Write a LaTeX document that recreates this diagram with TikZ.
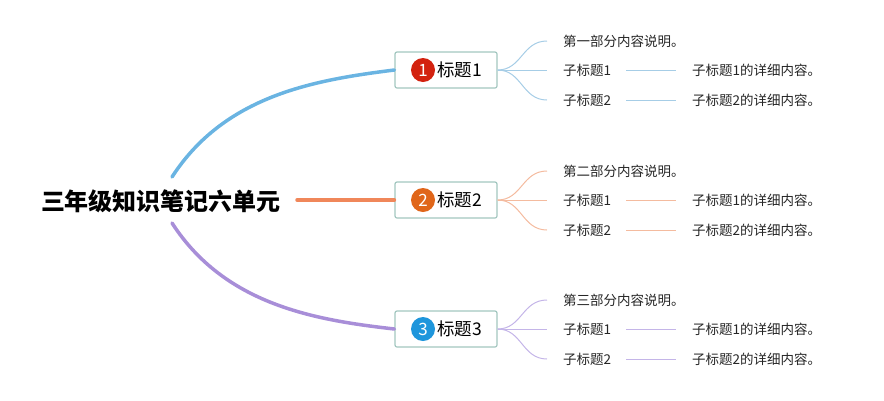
\documentclass[tikz,border=0pt]{standalone}
\usepackage{fontspec}
\setmainfont{Noto Sans CJK SC}
\begin{document}
\begin{tikzpicture}[x=1pt,y=-1pt,
  topicbox/.style={draw=topicborder,line width=1.2pt,fill=white,rounded corners=2pt,minimum width=102pt,minimum height=36pt,inner sep=0pt},
  numcirc/.style={circle,inner sep=0pt,minimum size=24pt,text=white,font=\fontsize{17}{17}\selectfont},
  toptext/.style={font=\fontsize{17.5}{17.5}\selectfont,inner sep=0pt,anchor=west},
  subtext/.style={font=\fontsize{13.5}{13.5}\selectfont,inner sep=0pt,anchor=west,text=black!85},
  mainline/.style={line width=3.5pt,line cap=round},
  subline/.style={line width=1pt}]
\definecolor{topicborder}{HTML}{A3C7C0}
\definecolor{cA}{HTML}{6AB4E2}\definecolor{cAl}{HTML}{A6CDE6}
\definecolor{cB}{HTML}{F0875A}\definecolor{cBl}{HTML}{F4BB9F}
\definecolor{cC}{HTML}{A88ED8}\definecolor{cCl}{HTML}{C4B5E8}
\definecolor{nA}{HTML}{D3220F}\definecolor{nB}{HTML}{E0661A}\definecolor{nC}{HTML}{1E96DC}
\useasboundingbox (0,0) rectangle (884,400);
\node[font=\fontsize{24}{24}\selectfont\bfseries,inner sep=0pt] (root) at (161,201) {三年级知识笔记六单元};
\coordinate (rA) at (172,177);
\coordinate (rB) at (297,200);
\coordinate (rC) at (172,223);
% topics
\foreach \i/\y/\nc/\t in {A/70/nA/1,B/200/nB/2,C/329/nC/3}{
  \node[topicbox] (t\i) at (446,\y) {};
  \node[numcirc,fill=\nc] (n\i) at (423,\y) {\t};
  \node[toptext] (tt\i) at (437,\y) {标题\t};
}
\draw[mainline,cA] (rA) .. controls (225,95) and (315,80) .. (tA.west);
\draw[mainline,cB] (rB) -- (tB.west);
\draw[mainline,cC] (rC) .. controls (225,305) and (315,320) .. (tC.west);
% sub-branches
\foreach \i/\y/\cl/\desc in {A/70/cAl/第一部分内容说明。,B/200/cBl/第二部分内容说明。,C/329/cCl/第三部分内容说明。}{
  \node[subtext] (d\i) at (563,\y-29) {\desc};
  \node[subtext] (sa\i) at (563,\y) {子标题1};
  \node[subtext] (sb\i) at (563,\y+30) {子标题2};
  \node[subtext] (da\i) at (692,\y) {子标题1的详细内容。};
  \node[subtext] (db\i) at (692,\y+30) {子标题2的详细内容。};
  \coordinate (e\i1) at (547,\y-29);
  \coordinate (e\i2) at (547,\y);
  \coordinate (e\i3) at (547,\y+30);
  \draw[subline,\cl] (t\i.east) .. controls (522,\y) and (522,\y-29) .. (e\i1);
  \draw[subline,\cl] (t\i.east) -- (e\i2);
  \draw[subline,\cl] (t\i.east) .. controls (522,\y) and (522,\y+30) .. (e\i3);
  \draw[subline,\cl] ([xshift=15pt]sa\i.east) -- ([xshift=-16pt]da\i.west);
  \draw[subline,\cl] ([xshift=15pt]sb\i.east) -- ([xshift=-16pt]db\i.west);
}
\end{tikzpicture}
\end{document}
